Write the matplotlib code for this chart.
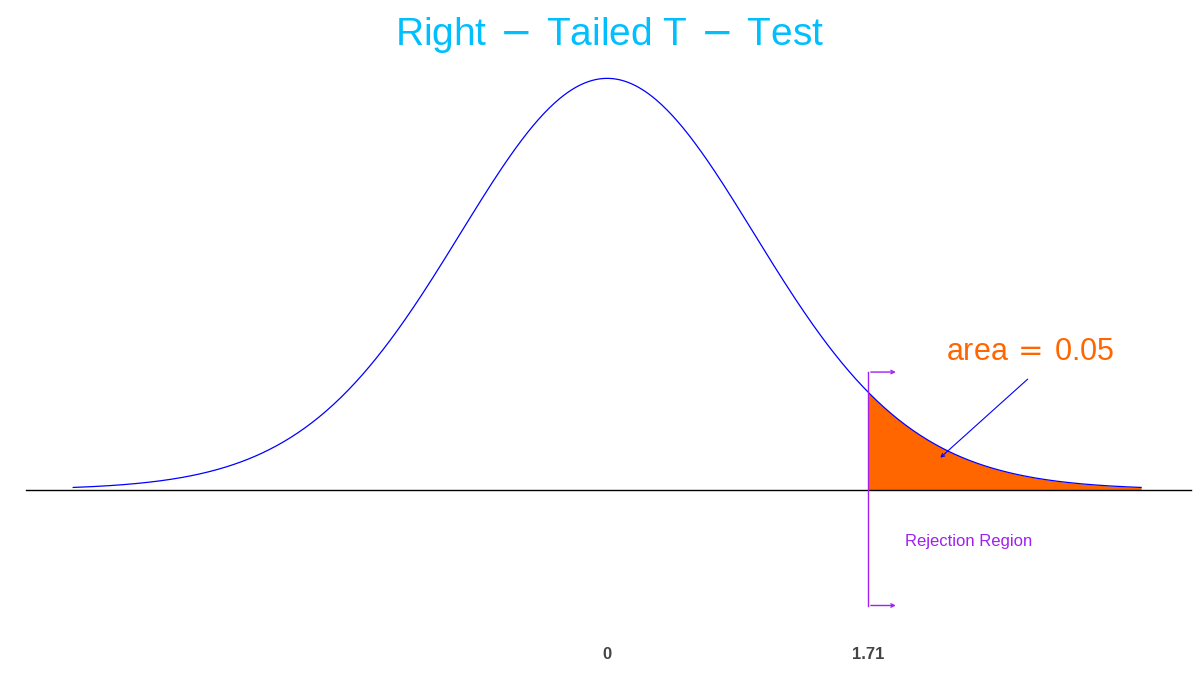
import math
import numpy as np
import matplotlib
matplotlib.use("Agg")
import matplotlib.pyplot as plt

df = 24
t_crit = 1.71
alpha = 0.05
tick_vals = [0, 1.71]
tick_labels = ["0", "1.71"]

def tpdf(x, v):
    c = math.gamma((v + 1) / 2) / (math.sqrt(v * math.pi) * math.gamma(v / 2))
    return c * (1 + x**2 / v) ** (-(v + 1) / 2)

x = np.linspace(-3.5, 3.5, 600)
y = tpdf(x, df)

fig = plt.figure(figsize=(12, 6.92), dpi=100)
ax = fig.add_axes([0, 0, 1, 1])
ax.set_xlim(-3.98, 3.886)
ax.set_ylim(-0.194, 0.47)
ax.axis("off")

ax.plot([-3.81, 3.83], [0, 0], color="black", lw=1)
ax.plot(x, y, color="blue", lw=0.9)
m = x >= t_crit
ax.fill_between(x[m], 0, y[m], color="#FF6600", lw=0)

purple = "#A020F0"
ax.plot([t_crit, t_crit], [-0.111, 0.113], color=purple, lw=1)
for yy in (0.113, -0.111):
    ax.annotate("", xy=(1.91, yy), xytext=(t_crit, yy),
                arrowprops=dict(arrowstyle="->", color=purple, lw=1, mutation_scale=6))
ax.text(1.95, -0.05, "Rejection Region", color=purple, fontsize=12,
        va="center", ha="left", family="Liberation Sans")

ax.text(2.77, 0.132, f"area$\\,=\\,${alpha}", color="#FF6600", fontsize=22,
        ha="center", va="center", family="Liberation Sans")
ax.annotate("", xy=(2.17, 0.029), xytext=(2.77, 0.108),
            arrowprops=dict(arrowstyle="->", color="blue", lw=0.8, mutation_scale=6))

for v, lab in zip(tick_vals, tick_labels):
    ax.text(v, -0.158, lab, color="#444444", fontsize=12, fontweight="bold",
            ha="center", va="center", family="Liberation Sans")

fig.text(0.508, 0.95, "Right$\\,-\\,$Tailed T$\\,-\\,$Test", color="#00BFFF",
         fontsize=28, ha="center", va="center", family="Liberation Sans")

fig.savefig("out.png", dpi=100)
